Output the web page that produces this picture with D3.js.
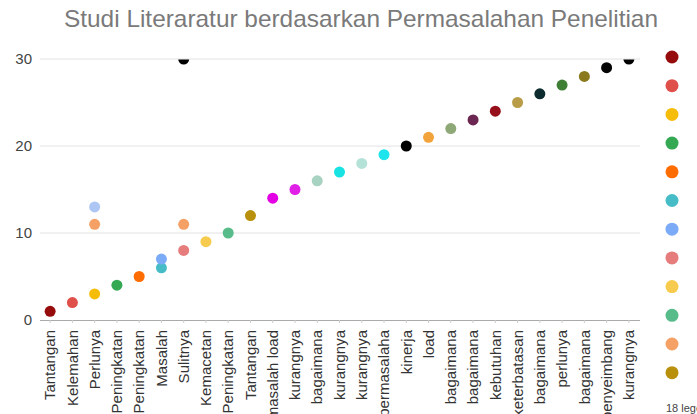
<!DOCTYPE html>
<html><head><meta charset="utf-8">
<script src="https://cdn.jsdelivr.net/npm/d3@7"></script>
<style>body{margin:0;background:#fff}svg{display:block;font-family:"Liberation Sans",Arial,sans-serif}</style>
</head><body><svg id="c" width="697" height="414"></svg>
<script>
const title = "Studi Literaratur berdasarkan Permasalahan Penelitian";
const categories = ["Tantangan","Kelemahan","Perlunya","Peningkatan","Peningkatan","Masalah","Sulitnya","Kemacetan","Peningkatan","Tantangan","masalah load","kurangnya","bagaimana","kurangnya","kurangnya","permasalaha","kinerja","load","bagaimana","bagaimana","kebutuhan","keterbatasan","bagaimana","perlunya","bagaimana","penyeimbang","kurangnya"];
const yTicks = [0, 10, 20, 30];
const seriesColors = ["#960c0c","#e0504a","#f5bd0a","#34a853","#ff6d01","#46bdc6","#7baaf7","#e67c7c","#f7cb4d","#57bb8a","#f5a064","#b8900c","#aec6f4","#e400e4","#e020e6","#a8d2c2","#18e2e2","#b5e2d8","#1ee4ee","#000000","#f3a33b","#8fa877","#6b2652","#96101c","#b89c48","#0c2c30","#3f7f35","#8a7a1d","#050505","#000000"];
const pointCategory = [0,1,2,3,4,5,5,6,7,8,2,6,9,2,10,11,12,13,14,15,16,17,18,19,20,21,22,23,24,25,26,6];
const pointValue    = [1,2,3,4,5,6,7,8,9,10,11,11,12,13,14,15,16,17,18,19,20,21,22,23,24,25,26,27,28,29,30,30];
const pointSeries   = [0,1,2,3,4,5,6,7,8,9,10,10,11,12,13,14,15,16,17,18,19,20,21,22,23,24,25,26,27,28,29,29];
const legendShown = 12;
const legendMore = "18 legenda lainnya";

const svg = d3.select("#c");
const x = d3.scaleBand().domain(d3.range(categories.length)).range([39, 640]);
const y = d3.scaleLinear().domain([0, 30]).range([320, 59]);
const cx = i => x(i) + x.bandwidth() / 2;

svg.append("text").attr("x", 361).attr("y", 27).attr("text-anchor", "middle")
  .attr("font-size", 24).attr("fill", "#7a7a7a")
  .attr("textLength", 594).attr("lengthAdjust", "spacingAndGlyphs").text(title);

// gridlines
svg.append("g").selectAll("line").data(yTicks.filter(t => t > 0)).join("line")
  .attr("x1", 40).attr("x2", 640).attr("y1", d => y(d)).attr("y2", d => y(d))
  .attr("stroke", "#e2e2e2").attr("stroke-width", 1);

// y labels
const ya = svg.append("g").attr("transform", "translate(40,0)")
  .call(d3.axisLeft(y).tickValues(yTicks).tickSize(0).tickPadding(8));
ya.select(".domain").remove();
ya.selectAll("text").attr("font-size", 15).attr("fill", "#444").attr("font-family", "Liberation Sans, Arial, sans-serif");

// x axis
const xa = svg.append("g").attr("transform", "translate(0,320)")
  .call(d3.axisBottom(x).tickFormat(i => categories[i]).tickSizeInner(3).tickSizeOuter(0));
xa.select(".domain").attr("stroke", "#aaaaaa").attr("d", "M40,0.5H640");
xa.selectAll(".tick line").attr("stroke", "#cccccc");
xa.selectAll("text").attr("font-size", 15).attr("fill", "#333")
  .attr("font-family", "Liberation Sans, Arial, sans-serif")
  .attr("transform", "rotate(-90)").attr("x", -10).attr("y", 0).attr("dy", "0.35em")
  .attr("text-anchor", "end");

// points
svg.append("defs").append("clipPath").attr("id", "plotclip")
  .append("rect").attr("x", 0).attr("y", 59.5).attr("width", 697).attr("height", 300);
const pts = d3.range(pointValue.length);
svg.append("g").attr("clip-path", "url(#plotclip)").selectAll("circle").data(pts).join("circle")
  .attr("cx", i => cx(pointCategory[i])).attr("cy", i => y(pointValue[i])).attr("r", 5.5)
  .attr("fill", i => seriesColors[pointSeries[i]]);

// legend
const lg = svg.append("g");
lg.selectAll("circle").data(d3.range(legendShown)).join("circle")
  .attr("cx", 672).attr("cy", i => 57 + i * 28.7).attr("r", 6.5)
  .attr("fill", i => seriesColors[i]);
lg.append("text").attr("x", 666).attr("y", 412).attr("font-size", 11).attr("fill", "#444").text(legendMore);
</script></body></html>
